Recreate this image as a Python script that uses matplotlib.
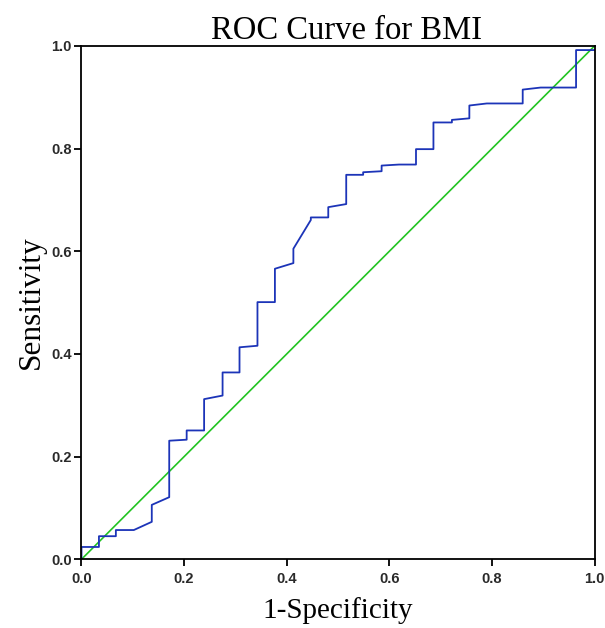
import matplotlib
matplotlib.use('Agg')
import matplotlib.pyplot as plt

# ROC curve points (1-specificity, sensitivity)
fpr = [0.0, 0.0, 0.034, 0.034, 0.067, 0.067, 0.102, 0.137, 0.137, 0.171, 0.171,
       0.205, 0.205, 0.239, 0.239, 0.275, 0.275, 0.308, 0.308, 0.343, 0.343,
       0.377, 0.377, 0.413, 0.413, 0.447, 0.447, 0.481, 0.481, 0.516, 0.516,
       0.549, 0.549, 0.585, 0.585, 0.619, 0.652, 0.652, 0.686, 0.686, 0.722,
       0.722, 0.756, 0.756, 0.790, 0.860, 0.860, 0.895, 0.964, 0.964, 1.0]
tpr = [0.0, 0.024, 0.024, 0.045, 0.045, 0.057, 0.057, 0.073, 0.106, 0.121, 0.231,
       0.233, 0.251, 0.251, 0.312, 0.319, 0.364, 0.364, 0.413, 0.416, 0.501,
       0.501, 0.566, 0.577, 0.605, 0.661, 0.666, 0.666, 0.686, 0.692, 0.749,
       0.749, 0.754, 0.756, 0.767, 0.769, 0.769, 0.799, 0.799, 0.851, 0.851,
       0.856, 0.859, 0.884, 0.888, 0.888, 0.915, 0.919, 0.919, 0.992, 0.992]
ref_line = [0.0, 1.0]
ticks = [0.0, 0.2, 0.4, 0.6, 0.8, 1.0]

fig = plt.figure(figsize=(6.05, 6.28), dpi=100)
ax = fig.add_axes([0.1347, 0.1094, 0.848, 0.8174])

ax.plot(ref_line, ref_line, color='#22c422', lw=1.2)
ax.plot(fpr, tpr, color='#1c34b8', lw=1.3)

ax.set_xlim(0, 1)
ax.set_ylim(0, 1)
ax.set_xticks(ticks)
ax.set_yticks(ticks)
ax.set_xticklabels([f'{t:.1f}' for t in ticks])
ax.set_yticklabels([f'{t:.1f}' for t in ticks])
for lab in ax.get_xticklabels() + ax.get_yticklabels():
    lab.set_family('Liberation Sans')
    lab.set_fontsize(10.5)
    lab.set_weight('bold')
    lab.set_color('#2a2a2a')
ax.tick_params(direction='out', length=5, width=1.3, pad=2)
ax.tick_params(axis='x', pad=4)
for s in ax.spines.values():
    s.set_linewidth(1.3)

serif = 'Liberation Serif'
ax.set_title('ROC Curve for BMI', family=serif, fontsize=23.5, pad=4, x=0.516)
ax.set_xlabel('1-Specificity', family=serif, fontsize=21, labelpad=8)
ax.set_ylabel('Sensitivity', family=serif, fontsize=22.5, labelpad=4)

fig.savefig('out.png', dpi=100)
